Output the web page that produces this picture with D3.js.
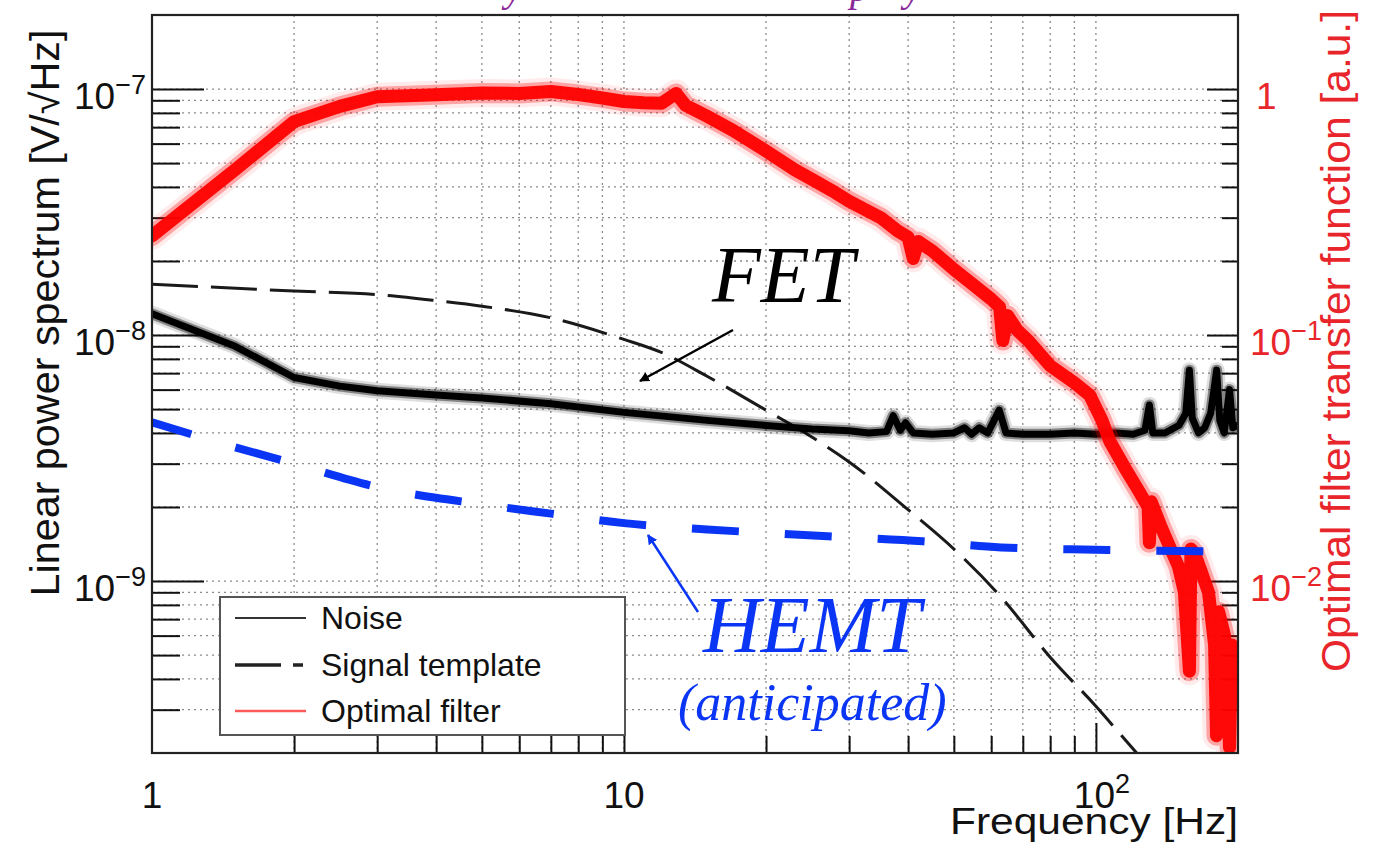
<!DOCTYPE html>
<html><head><meta charset="utf-8">
<script src="https://cdn.jsdelivr.net/npm/d3@7"></script>
<style>body{margin:0;background:#fff}svg{display:block}</style>
</head><body>
<svg id="c" width="1378" height="843"></svg>
<script>
// ---------------- data ----------------
const noiseFreq = [1,1.5,2,2.5,3,4,5,7,10,15,20,25,30,33,36,37.2,38.5,39.5,41,45,50,52.7,54.5,56.6,59,62.4,64.5,70,80,90,100,110,120,127,129.8,132,140,150,155,157.8,160,165,170,175,180.2,183,187,191.9,195,200];
const noiseVal  = [1.22e-8,9.0e-9,6.72e-9,6.2e-9,5.94e-9,5.7e-9,5.55e-9,5.26e-9,4.85e-9,4.5e-9,4.29e-9,4.15e-9,4.08e-9,4.0e-9,4.05e-9,4.7e-9,4.1e-9,4.4e-9,4.0e-9,3.95e-9,4.0e-9,4.2e-9,3.95e-9,4.2e-9,4.0e-9,4.95e-9,4.0e-9,3.95e-9,3.95e-9,4.0e-9,3.95e-9,4.0e-9,3.95e-9,4.1e-9,5.2e-9,4.0e-9,4.0e-9,4.3e-9,4.8e-9,7.2e-9,4.6e-9,4.0e-9,4.2e-9,4.8e-9,7.2e-9,4.5e-9,4.0e-9,6.0e-9,4.2e-9,4.3e-9];

const templateFreq = [1,2,3,4,5,7,10,12,15,20,25,30,40,50,63,80,100,122,140];
const templateVal  = [1.61e-8,1.51e-8,1.46e-8,1.38e-8,1.31e-8,1.175e-8,9.6e-9,8.5e-9,6.8e-9,4.95e-9,3.85e-9,3.05e-9,1.95e-9,1.35e-9,8.6e-10,4.9e-10,3.1e-10,2.0e-10,1.5e-10];

const hemtFreq = [1,1.5,2,3,5,7,10,15,20,27,43,63,100,200];
const hemtVal  = [4.42e-9,3.5e-9,3.0e-9,2.41e-9,2.05e-9,1.88e-9,1.72e-9,1.62e-9,1.57e-9,1.52e-9,1.45e-9,1.37e-9,1.34e-9,1.32e-9];

const filterFreq = [1,1.5,2,2.5,3,4,5,6,7,8,9,10,11,12,12.9,13.5,15,17,20,23,25,28,30,35,38,40,41,42,45,50,55,60,62.5,63.5,65,68,72,80,90,97,103,107,115,123,129,129.8,131,137.6,144,149.5,154,157.8,159,161.8,167,173.2,178.4,180.1,182,187.3,189.5,191.9,194,197.6,200];
const filterVal  = [0.253,0.47,0.737,0.85,0.93,0.948,0.963,0.96,0.978,0.95,0.92,0.89,0.88,0.875,0.96,0.86,0.775,0.68,0.56,0.47,0.43,0.38,0.35,0.30,0.265,0.25,0.205,0.24,0.22,0.185,0.16,0.14,0.13,0.095,0.12,0.105,0.0946,0.075,0.064,0.057,0.045,0.037,0.029,0.0234,0.02,0.0143,0.021,0.0165,0.0135,0.0115,0.009,0.0043,0.0135,0.013,0.011,0.009,0.0055,0.00235,0.0075,0.006,0.0042,0.0021,0.0055,0.0045,0.0035];

const legendLabels = ["Noise","Signal template","Optimal filter"];
const xTickValues = [1,10,100];
const xTickText = [["1",""],["10",""],["10","2"]];
const yLeftTickValues = [1e-9,1e-8,1e-7];
const yLeftTickText = [["10","\u22129"],["10","\u22128"],["10","\u22127"]];
const yRightTickValues = [0.01,0.1,1];
const yRightTickText = [["10","\u22122"],["10","\u22121"],["1",""]];
const xTitle = "Frequency [Hz]";
const yLeftTitle = "Linear power spectrum [V/\u221AHz]";
const yRightTitle = "Optimal filter transfer function [a.u.]";

// ---------------- layout ----------------
const L=152,R=1238,T=15,B=753;
const x  = d3.scaleLog().domain([1,200]).range([L,R]);
const yL = d3.scaleLog().domain([2e-10,2e-7]).range([B,T]);
const yR = d3.scaleLog().domain([2e-3,2]).range([B,T]);
const svg = d3.select("#c");
const SANS = "'Liberation Sans', Arial, Helvetica, sans-serif";
const SERIF = "'Liberation Serif', 'Times New Roman', serif";
const RED = "#ff0000", AXRED = "#e8252b", BLUE = "#0a35f5";

const defs = svg.append("defs");
defs.append("clipPath").attr("id","clip")
  .append("rect").attr("x",L).attr("y",T).attr("width",R-L).attr("height",B-T);
function marker(id,color){
  defs.append("marker").attr("id",id).attr("viewBox","0 0 10 10").attr("refX",9).attr("refY",5)
    .attr("markerWidth",10).attr("markerHeight",10).attr("markerUnits","userSpaceOnUse").attr("orient","auto")
    .append("path").attr("d","M0,0 L10,5 L0,10 z").attr("fill",color);
}
marker("arrK","#000"); marker("arrB",BLUE);

// purple caption cut off at top (only descenders visible, as in the reference)
const cap = svg.append("g").attr("font-family",SERIF).attr("font-style","italic").attr("font-size",40).attr("fill","#8a2a98");
cap.append("text").attr("x",505).attr("y",1).text("y");
cap.append("text").attr("x",850).attr("y",1).text("p");
cap.append("text").attr("x",904).attr("y",1).text("y");

// ---------------- grid ----------------
const isMajor = v => Math.abs(Math.log10(v) - Math.round(Math.log10(v))) < 1e-6;
const xg = x.ticks().filter(v => v>1 && v<200);
const ygL = yL.ticks().filter(v => v>2.01e-10 && v<1.99e-7);
const grid = svg.append("g").attr("stroke","#8a8a8a").attr("stroke-width",1.3).attr("stroke-dasharray","2,4");
grid.selectAll(".gx").data(xg).join("line").attr("x1",d=>x(d)).attr("x2",d=>x(d)).attr("y1",T).attr("y2",B);
grid.selectAll(".gy").data(ygL).join("line").attr("y1",d=>yL(d)).attr("y2",d=>yL(d)).attr("x1",L).attr("x2",R);

// ---------------- axes (ticks inward) ----------------
const axG = svg.append("g");
function styleAxis(g){ g.select(".domain").remove(); g.selectAll("line").attr("stroke","#111").attr("stroke-width",2); }
const xAll = x.ticks().filter(v=>v>1 && v<200);
axG.append("g").attr("transform",`translate(0,${B})`)
  .call(d3.axisBottom(x).tickValues(xAll.filter(v=>!isMajor(v))).tickSize(-17).tickFormat("")).call(styleAxis);
axG.append("g").attr("transform",`translate(0,${B})`)
  .call(d3.axisBottom(x).tickValues(xAll.filter(isMajor)).tickSize(-30).tickFormat("")).call(styleAxis);
const yAll = yL.ticks().filter(v=>v>2.01e-10 && v<1.99e-7);
axG.append("g").attr("transform",`translate(${L},0)`)
  .call(d3.axisLeft(yL).tickValues(yAll.filter(v=>!isMajor(v))).tickSize(-28).tickFormat("")).call(styleAxis);
axG.append("g").attr("transform",`translate(${L},0)`)
  .call(d3.axisLeft(yL).tickValues(yAll.filter(isMajor)).tickSize(-52).tickFormat("")).call(styleAxis);
const yRAll = yR.ticks().filter(v=>v>2.01e-3 && v<1.99);
axG.append("g").attr("transform",`translate(${R},0)`)
  .call(d3.axisRight(yR).tickValues(yRAll.filter(v=>!isMajor(v))).tickSize(-16).tickFormat("")).call(styleAxis);
axG.append("g").attr("transform",`translate(${R},0)`)
  .call(d3.axisRight(yR).tickValues(yRAll.filter(isMajor)).tickSize(-31).tickFormat("")).call(styleAxis);

// ---------------- curves ----------------
const plot = svg.append("g").attr("clip-path","url(#clip)");
const zip = (a,b) => a.map((v,i)=>[v,b[i]]);
const lineL = d3.line().x(d=>x(d[0])).y(d=>yL(d[1]));
const lineLs = d3.line().x(d=>x(d[0])).y(d=>yL(d[1])).curve(d3.curveMonotoneX);
const lineR = d3.line().x(d=>x(d[0])).y(d=>yR(d[1]));

// signal template (black dashed)
plot.append("path").attr("d",lineLs(zip(templateFreq,templateVal))).attr("fill","none")
  .attr("stroke","#1a1a1a").attr("stroke-width",3).attr("stroke-dasharray","46,13");

// noise band
const nd = lineL(zip(noiseFreq,noiseVal));
[[16,0.13],[11,0.4],[7,1]].forEach(([w,o])=>{
  plot.append("path").attr("d",nd).attr("fill","none").attr("stroke","#000")
    .attr("stroke-width",w).attr("stroke-opacity",o).attr("stroke-linejoin","round").attr("stroke-linecap","round");
});

// optimal filter band
const fd = lineR(zip(filterFreq,filterVal));
[[28,0.08],[20,0.3],[13,0.95]].forEach(([w,o])=>{
  plot.append("path").attr("d",fd).attr("fill","none").attr("stroke",RED)
    .attr("stroke-width",w).attr("stroke-opacity",o).attr("stroke-linejoin","round").attr("stroke-linecap","round");
});

// HEMT anticipated (blue, thick dashed) drawn on top
plot.append("path").attr("d",lineLs(zip(hemtFreq,hemtVal))).attr("fill","none")
  .attr("stroke",BLUE).attr("stroke-width",8).attr("stroke-dasharray","47,46").attr("stroke-dashoffset",6);

// frame
svg.append("rect").attr("x",L).attr("y",T).attr("width",R-L).attr("height",B-T)
  .attr("fill","none").attr("stroke","#222").attr("stroke-width",2.2);

// ---------------- tick labels ----------------
function supLabel(g, xpos, ypos, parts, anchor, color){
  const t = g.append("text").attr("x",xpos).attr("y",ypos).attr("text-anchor",anchor)
    .attr("font-family",SANS).attr("font-size",37).attr("fill",color);
  t.append("tspan").text(parts[0]);
  if(parts[1]) t.append("tspan").attr("font-size",27).attr("dy",-15).text(parts[1]);
}
const lab = svg.append("g");
yLeftTickValues.forEach((v,i)=>supLabel(lab,146,yL(v)+20,yLeftTickText[i],"end","#111"));
yRightTickValues.forEach((v,i)=>supLabel(lab,yRightTickText[i][1]?1250:1256,yR(v)+20,yRightTickText[i],"start",AXRED));
xTickValues.forEach((v,i)=>supLabel(lab,x(v)+(xTickText[i][1]?6:0),808,xTickText[i],"middle","#111"));

// axis titles
svg.append("text").attr("transform","translate(59,313) rotate(-90)").attr("text-anchor","middle")
  .attr("font-family",SANS).attr("font-size",40).attr("fill","#111")
  .attr("textLength",567).attr("lengthAdjust","spacingAndGlyphs").text(yLeftTitle);
svg.append("text").attr("transform","translate(1350,341) rotate(-90)").attr("text-anchor","middle")
  .attr("font-family",SANS).attr("font-size",40).attr("fill",AXRED)
  .attr("textLength",662).attr("lengthAdjust","spacingAndGlyphs").text(yRightTitle);
svg.append("text").attr("x",1238).attr("y",834).attr("text-anchor","end")
  .attr("font-family",SANS).attr("font-size",37).attr("fill","#111")
  .attr("textLength",288).attr("lengthAdjust","spacingAndGlyphs").text(xTitle);

// ---------------- legend ----------------
const lg = svg.append("g");
lg.append("rect").attr("x",220).attr("y",597).attr("width",405).attr("height",138)
  .attr("fill","#fff").attr("stroke","#555").attr("stroke-width",2);
const ly = [618,665,711];
lg.append("line").attr("x1",235).attr("x2",306).attr("y1",ly[0]).attr("y2",ly[0]).attr("stroke","#333").attr("stroke-width",2);
lg.append("line").attr("x1",235).attr("x2",306).attr("y1",ly[1]).attr("y2",ly[1]).attr("stroke","#222").attr("stroke-width",3.5).attr("stroke-dasharray","46,12,10,20");
lg.append("line").attr("x1",235).attr("x2",306).attr("y1",ly[2]).attr("y2",ly[2]).attr("stroke","#ff5a5a").attr("stroke-width",2.5);
lg.selectAll("text.l").data(legendLabels).join("text").attr("x",321).attr("y",(d,i)=>ly[i]+11)
  .attr("font-family",SANS).attr("font-size",32).attr("fill","#111").text(d=>d);

// ---------------- annotations ----------------
svg.append("text").attr("x",712).attr("y",302).attr("font-family",SERIF).attr("font-style","italic")
  .attr("font-size",80).attr("fill","#000").text("FET");
svg.append("line").attr("x1",733).attr("y1",330).attr("x2",640).attr("y2",381)
  .attr("stroke","#000").attr("stroke-width",2.5).attr("marker-end","url(#arrK)");
svg.append("text").attr("x",703).attr("y",652).attr("font-family",SERIF).attr("font-style","italic")
  .attr("font-size",80).attr("fill",BLUE).text("HEMT");
svg.append("text").attr("x",678).attr("y",720).attr("font-family",SERIF).attr("font-style","italic")
  .attr("font-size",52).attr("fill",BLUE).text("(anticipated)");
svg.append("line").attr("x1",698).attr("y1",612).attr("x2",648).attr("y2",535)
  .attr("stroke",BLUE).attr("stroke-width",2.5).attr("marker-end","url(#arrB)");
</script>
</body></html>
